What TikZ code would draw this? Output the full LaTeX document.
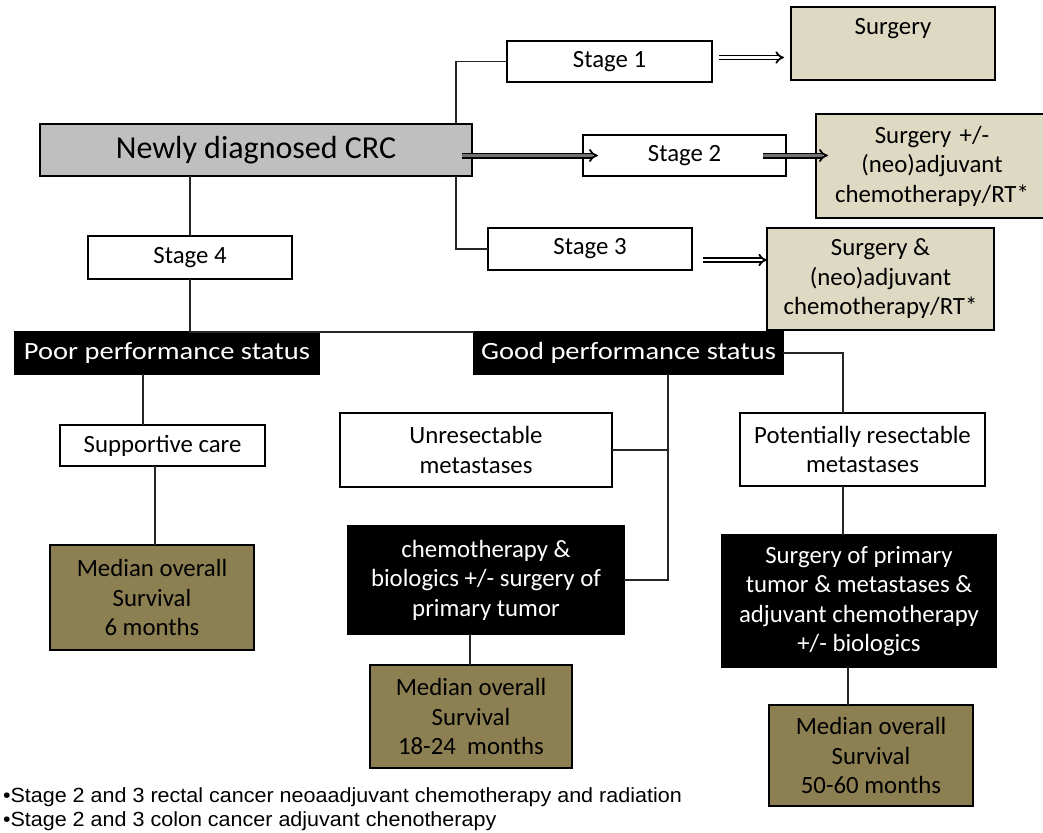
\documentclass[tikz,border=0pt]{standalone}
\usepackage{fontspec}
\setmainfont{Carlito}
\newfontfamily\widefont[FakeStretch=1.15]{Carlito}
\newfontfamily\notefont[FakeStretch=1.05]{Liberation Sans}
\usetikzlibrary{arrows.meta}
\definecolor{crcgray}{HTML}{BFBFBF}
\definecolor{tan}{HTML}{DDD9C3}
\definecolor{olive}{HTML}{8C7F51}
\begin{document}
\begin{tikzpicture}[x=1pt,y=-1pt,
  every node/.style={inner sep=0pt, outer sep=0pt, align=center,
    font=\fontsize{24.8}{29.5}\selectfont},
  wbox/.style={draw=black, line width=2.6pt, fill=white, text=black},
  kbox/.style={draw=black, line width=2.6pt, fill=black, text=white},
  tbox/.style={draw=black, line width=2.6pt, fill=tan, text=black},
  obox/.style={draw=black, line width=2.6pt, fill=olive, text=black},
  link/.style={draw=black!85, line width=1.6pt},
  darrow/.style={draw=black, line width=1.8pt, double=white, double distance=2.2pt, -{Implies}},
  garrow/.style={draw=black, line width=1.8pt, double=black!55, double distance=2.4pt, -{Implies}}
]
\useasboundingbox (0,0) rectangle (1043,832);
% coordinates for connector columns
\coordinate (jx) at (456,0);
\coordinate (gx) at (668,0);
\coordinate (px) at (843,0);

% nodes
\node[wbox, fill=crcgray, minimum width=432, minimum height=52,
  font=\fontsize{32}{36}\selectfont] (crc) at (256,150) {Newly diagnosed CRC};
\node[wbox, minimum width=205, minimum height=41] (s1) at (609.5,61.5) {Stage 1};
\node[tbox, minimum width=204, minimum height=73] (surg1) at (893,43.5) {\raisebox{-7pt}{Surgery}\\ \strut};
\node[wbox, minimum width=203, minimum height=41] (s2) at (684.5,155.5) {Stage 2};
\node[tbox, minimum width=232, minimum height=104, text width=228] (surg2) at (932,166)
  {Surgery +/-\\(neo)adjuvant\\chemotherapy/RT*};
\node[wbox, minimum width=204, minimum height=42] (s3) at (590,249) {Stage 3};
\node[tbox, minimum width=227, minimum height=102] (surg3) at (880.5,279)
  {Surgery \&\\(neo)adjuvant\\chemotherapy/RT*};
\node[wbox, minimum width=204, minimum height=43] (s4) at (190,257.5) {Stage 4};
\node[kbox, minimum width=304, minimum height=42, font=\widefont\fontsize{24.8}{29.5}\selectfont] (poor) at (167,353) {Poor performance status};
\node[kbox, minimum width=309, minimum height=42, font=\widefont\fontsize{24.8}{29.5}\selectfont] (good) at (628.5,353) {Good performance status};
\node[wbox, minimum width=205, minimum height=41] (supp) at (162.5,445.5) {Supportive care};
\node[wbox, minimum width=272, minimum height=74] (unres) at (476,450) {Unresectable\\metastases};
\node[wbox, minimum width=245, minimum height=73] (potres) at (862.5,449.5) {Potentially resectable\\metastases};
\node[kbox, minimum width=276, minimum height=108] (chemo) at (486,580)
  {chemotherapy \&\\biologics +/- surgery of\\primary tumor};
\node[kbox, minimum width=274, minimum height=132] (surgprim) at (859,601)
  {Surgery of primary\\tumor \& metastases \&\\adjuvant chemotherapy\\+/- biologics};
\node[obox, minimum width=204, minimum height=105] (med1) at (152,597.5)
  {Median overall\\Survival\\6 months};
\node[obox, minimum width=202, minimum height=103] (med2) at (471,716.5)
  {Median overall\\Survival\\18-24\ \ months};
\node[obox, minimum width=204, minimum height=101] (med3) at (871,755.5)
  {Median overall\\Survival\\50-60 months};

% footnote
\node[anchor=north west, align=left, font=\notefont\fontsize{20.5}{24}\selectfont] (note) at (3,788)
  {•Stage 2 and 3 rectal cancer neoaadjuvant chemotherapy and radiation\\
   •Stage 2 and 3 colon cancer adjuvant chenotherapy};

% connectors
\draw[link] (crc.north -| jx) |- (s1.west);
\draw[link] (crc.south -| jx) |- (s3.west);
\draw[link] (crc.south -| s4.north) -- (s4.north);
\draw[link] (s4.south) |- (good.north west);
\draw[link] (poor.south -| 143,0) -- (supp.north -| 143,0);
\draw[link] (supp.south -| 155,0) -- (med1.north -| 155,0);
\draw[link] (good.east) -| (potres.north -| px);
\draw[link] (good.south -| gx) |- (chemo.east);
\draw[link] (unres.east) -- (unres.east -| gx);
\draw[link] (chemo.south -| 470,0) -- (med2.north -| 470,0);
\draw[link] (potres.south -| px) -- (surgprim.north -| px);
\draw[link] (surgprim.south -| 848,0) -- (med3.north -| 848,0);

% arrows
\draw[darrow] ([xshift=7pt,yshift=4pt]s1.east) -- ([xshift=-7pt,yshift=4pt]s1.east -| surg1.west);
\draw[garrow] ([xshift=-10pt]crc.east |- s2.west) -- ([xshift=15pt]s2.west);
\draw[garrow] ([xshift=-23pt]s2.east) -- ([xshift=12pt]s2.east -| surg2.west);
\draw[darrow] ([xshift=11pt,yshift=-11pt]s3.east) -- ([yshift=-11pt]s3.east -| surg3.west);
\end{tikzpicture}
\end{document}
